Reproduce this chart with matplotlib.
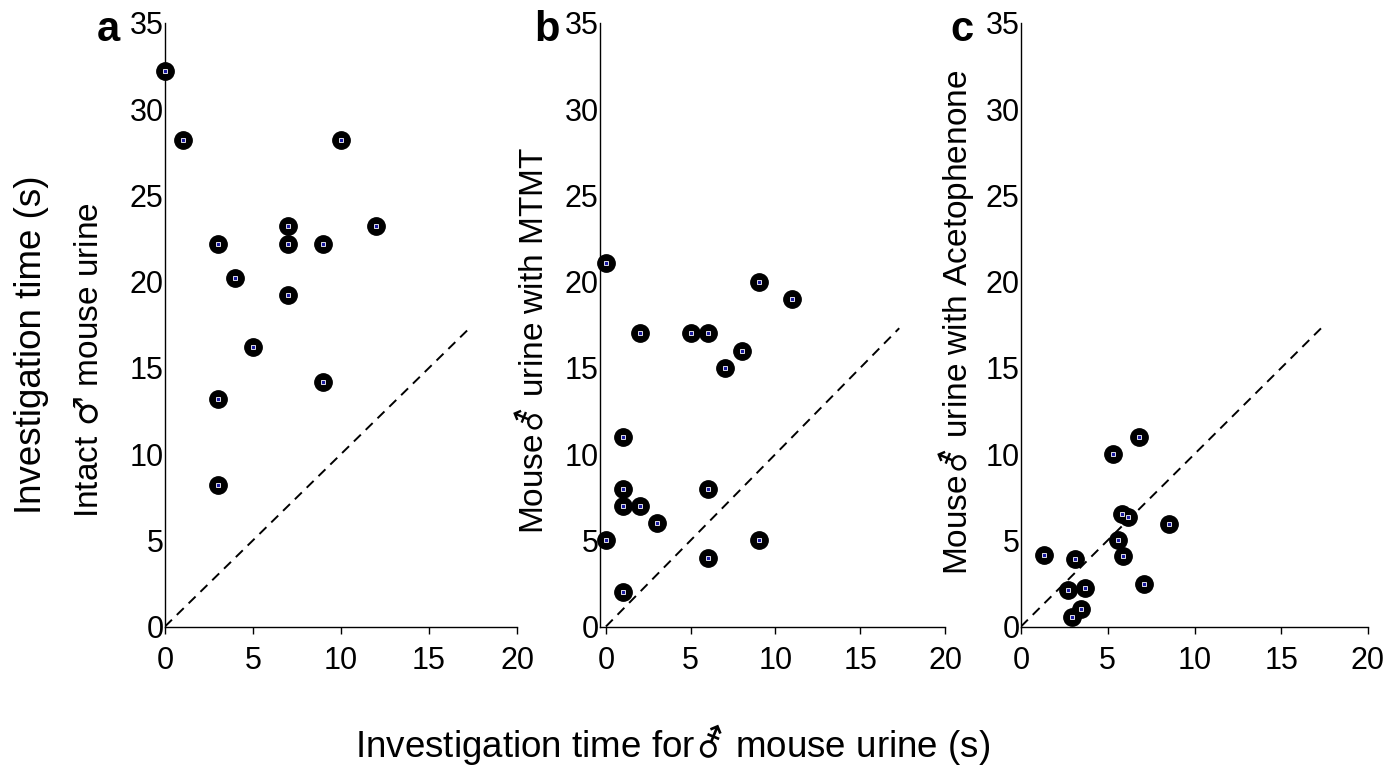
import matplotlib.pyplot as plt

plt.rcParams['font.family'] = ['Liberation Sans', 'DejaVu Sans']
plt.rcParams['mathtext.fontset'] = 'dejavusans'

# panel a: intact male urine vs castrated male urine
a_x = [0, 1, 3, 4, 5, 3, 3, 7, 7, 7, 9, 9, 10, 12]
a_y = [32.2, 28.2, 22.2, 20.2, 16.2, 13.2, 8.2, 23.2, 22.2, 19.2, 22.2, 14.2, 28.2, 23.2]

# panel b: castrated male urine with MTMT
b_x = [0, 1, 1, 1, 1, 0, 2, 2, 3, 5, 6, 6, 6, 7, 8, 9, 9, 11]
b_y = [21.1, 11, 8, 7, 2, 5, 17, 7, 6, 17, 17, 8, 4, 15, 16, 20, 5, 19]

# panel c: castrated male urine with Acetophenone
c_x = [1.3, 3.1, 2.7, 3.7, 2.95, 3.45, 5.3, 6.8, 5.8, 6.15, 5.6, 5.9, 8.55, 7.1]
c_y = [4.15, 3.9, 2.1, 2.25, 0.55, 1.0, 10.0, 11.0, 6.5, 6.35, 5.0, 4.1, 5.95, 2.45]

x_ticks = [0, 5, 10, 15, 20]
y_ticks = [0, 5, 10, 15, 20, 25, 30, 35]

MALE = "$\\ \u2642$"
CAST = "$\u26a6$"

# letter, x data, y data, x min, axes pixel box, inner y label, label centre, letter centre
panels = [
    ("a", a_x, a_y, 0, [165, 352], "Intact" + MALE + " mouse urine", (90, 360), (108, 30)),
    ("b", b_x, b_y, -0.35, [600, 345], "Mouse" + CAST + " urine with MTMT", (533, 340), (547, 30)),
    ("c", c_x, c_y, 0, [1021, 347], "Mouse" + CAST + " urine with Acetophenone", (956, 322), (962, 30)),
]

W, H = 1393, 768
y0_px, y35_px = 626.5, 23
fig = plt.figure(figsize=(W / 100, H / 100), dpi=100)

for letter, xs, ys, x0, (left, width), ylab, (lx, ly), (px, py) in panels:
    ax = fig.add_axes([left / W, 1 - y0_px / H, width / W, (y0_px - y35_px) / H])
    ax.plot([0, 17.3], [0, 17.3], color='black', lw=1.4, linestyle=(0, (5, 3.5)))
    ax.plot(xs, ys, 'o', color='black', markersize=12.5, clip_on=False, zorder=3)
    ax.plot(xs, ys, 's', markersize=2.6, mfc='#1a1aa0', mec='white', mew=0.6,
            clip_on=False, zorder=4)
    ax.set_xlim(x0, 20)
    ax.set_ylim(0, 35)
    ax.set_xticks(x_ticks)
    ax.set_yticks(y_ticks)
    ax.tick_params(axis='x', labelsize=22, length=5, width=1, pad=9, direction='out')
    ax.tick_params(axis='y', labelsize=22, length=0, pad=1)
    for s in ['top', 'right']:
        ax.spines[s].set_visible(False)
    for s in ['left', 'bottom']:
        ax.spines[s].set_linewidth(1)
    fig.text(px / W, 1 - py / H, letter, fontsize=30, fontweight='bold',
             ha='center', va='center')
    fig.text(lx / W, 1 - ly / H, ylab, fontsize=24, rotation=90,
             ha='center', va='center')

fig.text(32 / W, 1 - 345 / H, "Investigation time (s)", fontsize=26.5, rotation=90,
         ha='center', va='center')
fig.text(673 / W, 1 - 757 / H, "Investigation time for" + CAST + " mouse urine (s)",
         fontsize=26.5, ha='center', va='baseline')

fig.savefig("out.png", dpi=100)
